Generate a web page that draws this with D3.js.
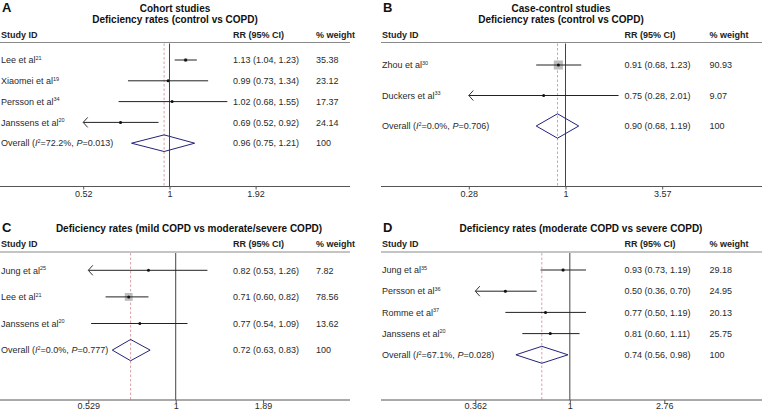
<!DOCTYPE html>
<html><head><meta charset="utf-8">
<script src="https://cdn.jsdelivr.net/npm/d3@7"></script>
<style>
html,body{margin:0;padding:0;background:#fff;}
svg{display:block;font-family:"Liberation Sans",Arial,Helvetica,sans-serif;}
</style></head>
<body><svg id="c" width="762" height="414"></svg>
<script>
// ---------- DATA ----------
// Panel A
const titleA = ["Cohort studies", "Deficiency rates (control vs COPD)"];
const studiesA = ["Lee et al", "Xiaomei et al", "Persson et al", "Janssens et al"];
const refsA = ["21", "19", "34", "20"];
const rrA = [1.13, 0.99, 1.02, 0.69];
const loA = [1.04, 0.73, 0.68, 0.517];
const hiA = [1.23, 1.34, 1.55, 0.92];
const weightA = [35.38, 23.12, 17.37, 24.14];
const overallA = [0.96, 0.75, 1.21];
const hetA = ["72.2%", "0.013"];
const ticksA = [0.52, 1, 1.92];
// Panel B
const titleB = ["Case-control studies", "Deficiency rates (control vs COPD)"];
const studiesB = ["Zhou et al", "Duckers et al"];
const refsB = ["30", "33"];
const rrB = [0.91, 0.75];
const loB = [0.68, 0.276];
const hiB = [1.23, 2.01];
const weightB = [90.93, 9.07];
const overallB = [0.90, 0.68, 1.19];
const hetB = ["0.0%", "0.706"];
const ticksB = [0.28, 1, 3.57];
// Panel C
const titleC = ["Deficiency rates (mild COPD vs moderate/severe COPD)"];
const studiesC = ["Jung et al", "Lee et al", "Janssens et al"];
const refsC = ["25", "21", "20"];
const rrC = [0.82, 0.71, 0.77];
const loC = [0.527, 0.60, 0.54];
const hiC = [1.26, 0.82, 1.09];
const weightC = [7.82, 78.56, 13.62];
const overallC = [0.72, 0.63, 0.83];
const hetC = ["0.0%", "0.777"];
const ticksC = [0.529, 1, 1.89];
// Panel D
const titleD = ["Deficiency rates (moderate COPD vs severe COPD)"];
const studiesD = ["Jung et al", "Persson et al", "Romme et al", "Janssens et al"];
const refsD = ["35", "36", "37", "20"];
const rrD = [0.93, 0.50, 0.77, 0.81];
const loD = [0.73, 0.36, 0.50, 0.60];
const hiD = [1.19, 0.70, 1.19, 1.11];
const weightD = [29.18, 24.95, 20.13, 25.75];
const overallD = [0.74, 0.56, 0.98];
const hetD = ["67.1%", "0.028"];
const ticksD = [0.362, 1, 2.76];

// ---------- LAYOUT ----------
const panels = [
  {letter:"A", title:titleA, studies:studiesA, refs:refsA, rr:rrA, lo:loA, hi:hiA, w:weightA, ov:overallA, het:hetA, ticks:ticksA,
   x0:0, x1:350, range:[83.2,255.6], colRR:233, colW:316, titleX:175,
   letterY:11.5, titleY:[11.5,23], headY:37.5, lineY:42.5, firstY:60, step:20.8, axisY:186.5, tickLabY:200},
  {letter:"B", title:titleB, studies:studiesB, refs:refsB, rr:rrB, lo:loB, hi:hiB, w:weightB, ov:overallB, het:hetB, ticks:ticksB,
   x0:381, x1:762, range:[468.8,662.2], colRR:624.5, colW:709.5, titleX:561,
   letterY:11.5, titleY:[11.5,23], headY:37.5, lineY:42.5, firstY:65, step:30.5, axisY:186.5, tickLabY:200},
  {letter:"C", title:titleC, studies:studiesC, refs:refsC, rr:rrC, lo:loC, hi:hiC, w:weightC, ov:overallC, het:hetC, ticks:ticksC,
   x0:0, x1:350, range:[88.3,263.1], colRR:233, colW:316, titleX:189,
   letterY:231.5, titleY:[232], headY:247, lineY:252, firstY:270.3, step:26.6, axisY:400, tickLabY:412.5},
  {letter:"D", title:titleD, studies:studiesD, refs:refsD, rr:rrD, lo:loD, hi:hiD, w:weightD, ov:overallD, het:hetD, ticks:ticksD,
   x0:381, x1:762, range:[475.3,664.3], colRR:624.5, colW:709.5, titleX:581,
   letterY:231.5, titleY:[232], headY:247, lineY:252, firstY:270, step:21.2, axisY:400, tickLabY:412.5}
];

const svg = d3.select("#c");
const f2 = d3.format(".2f");
const boxSize = d3.scaleLinear().domain([0,100]).range([0,10]);
const FS = 9;

function label(g, x, y, name, ref) {
  const t = g.append("text").attr("x", x).attr("y", y).attr("font-size", FS).attr("fill", "#2a2a2a");
  t.append("tspan").text(name);
  t.append("tspan").attr("font-size", 5.5).attr("dy", -3.5).text(ref);
}

panels.forEach(p => {
  const g = svg.append("g");
  const x = d3.scaleLog().domain([p.ticks[0], p.ticks[p.ticks.length-1]]).range(p.range);
  const xmin = p.ticks[0], xmax = p.ticks[p.ticks.length-1];
  const n = p.studies.length;
  const rowY = i => p.firstY + i * p.step;
  const ovY = rowY(n);
  const dh = p.step * 0.4;

  // letter & title
  g.append("text").attr("x", p.x0 + 2).attr("y", p.letterY).attr("font-size", 13).attr("font-weight", "bold").attr("fill", "#111").text(p.letter);
  p.title.forEach((t, i) => {
    g.append("text").attr("x", p.titleX).attr("y", p.titleY[i]).attr("text-anchor", "middle")
      .attr("font-size", 10).attr("font-weight", "bold").attr("fill", "#111").text(t);
  });
  // headers
  const hx = [p.x0 + 1, p.colRR, p.colW], ht = ["Study ID", "RR (95% CI)", "% weight"];
  ht.forEach((t, i) => g.append("text").attr("x", hx[i]).attr("y", p.headY).attr("font-size", FS)
    .attr("font-weight", "bold").attr("fill", "#222").text(t));
  g.append("line").attr("x1", p.x0).attr("x2", p.x1).attr("y1", p.lineY).attr("y2", p.lineY)
    .attr("stroke", "#8a8a8a").attr("stroke-width", 1.2);

  // reference lines
  g.append("line").attr("x1", x(1)).attr("x2", x(1)).attr("y1", p.lineY + 1).attr("y2", p.axisY)
    .attr("stroke", "#444").attr("stroke-width", 1);
  g.append("line").attr("x1", x(p.ov[0])).attr("x2", x(p.ov[0])).attr("y1", p.lineY + 1).attr("y2", p.axisY)
    .attr("stroke", "#d9a0a6").attr("stroke-width", 1).attr("stroke-dasharray", "2.5,2");

  // studies
  p.studies.forEach((s, i) => {
    const y = rowY(i);
    label(g, p.x0 + 1, y + 3.2, s, p.refs[i]);
    const lo = Math.max(p.lo[i], xmin), hi = Math.min(p.hi[i], xmax);
    const bs = boxSize(p.w[i]);
    g.append("rect").attr("x", x(p.rr[i]) - bs/2).attr("y", y - bs/2).attr("width", bs).attr("height", bs).attr("fill", "#bdbdbd");
    g.append("line").attr("x1", x(lo)).attr("x2", x(hi)).attr("y1", y).attr("y2", y).attr("stroke", "#222").attr("stroke-width", 1);
    if (p.lo[i] < xmin) {
      const ax = x(xmin);
      g.append("path").attr("d", `M${ax+4.5},${y-5}L${ax},${y}L${ax+4.5},${y+5}`).attr("fill", "none").attr("stroke", "#333").attr("stroke-width", 1);
    }
    g.append("circle").attr("cx", x(p.rr[i])).attr("cy", y).attr("r", 1.5).attr("fill", "#111");
    g.append("text").attr("x", p.colRR).attr("y", y + 3.2).attr("font-size", FS).attr("fill", "#2a2a2a")
      .text(`${f2(p.rr[i])} (${f2(p.lo[i])}, ${f2(p.hi[i])})`);
    g.append("text").attr("x", p.colW).attr("y", y + 3.2).attr("font-size", FS).attr("fill", "#2a2a2a").text(f2(p.w[i]));
  });

  // overall
  const ot = g.append("text").attr("x", p.x0 + 1).attr("y", ovY + 3.2).attr("font-size", FS).attr("fill", "#2a2a2a");
  ot.append("tspan").text("Overall (");
  ot.append("tspan").attr("font-style", "italic").text("I");
  ot.append("tspan").attr("font-size", 5.5).attr("dy", -3.5).text("2");
  ot.append("tspan").attr("dy", 3.5).text("=" + p.het[0] + ", ");
  ot.append("tspan").attr("font-style", "italic").text("P");
  ot.append("tspan").text("=" + p.het[1] + ")");
  g.append("path").attr("d", `M${x(p.ov[1])},${ovY}L${x(p.ov[0])},${ovY-dh}L${x(p.ov[2])},${ovY}L${x(p.ov[0])},${ovY+dh}Z`)
    .attr("fill", "none").attr("stroke", "#23237a").attr("stroke-width", 1);
  g.append("text").attr("x", p.colRR).attr("y", ovY + 3.2).attr("font-size", FS).attr("fill", "#2a2a2a")
    .text(`${f2(p.ov[0])} (${f2(p.ov[1])}, ${f2(p.ov[2])})`);
  g.append("text").attr("x", p.colW).attr("y", ovY + 3.2).attr("font-size", FS).attr("fill", "#2a2a2a").text("100");

  // axis
  g.append("line").attr("x1", p.x0).attr("x2", p.x1).attr("y1", p.axisY).attr("y2", p.axisY).attr("stroke", "#555").attr("stroke-width", 1);
  const ax = g.append("g").attr("transform", `translate(0,${p.axisY})`)
    .call(d3.axisBottom(x).tickValues(p.ticks).tickFormat(d => String(d)).tickSize(3));
  ax.select(".domain").remove();
  ax.selectAll(".tick line").attr("stroke", "#555");
  ax.selectAll(".tick text").attr("font-size", FS).attr("fill", "#2a2a2a").attr("font-family", "'Liberation Sans',Arial,sans-serif")
    .attr("y", p.tickLabY - p.axisY - 3.2).attr("dy", 0);
});
</script></body></html>
